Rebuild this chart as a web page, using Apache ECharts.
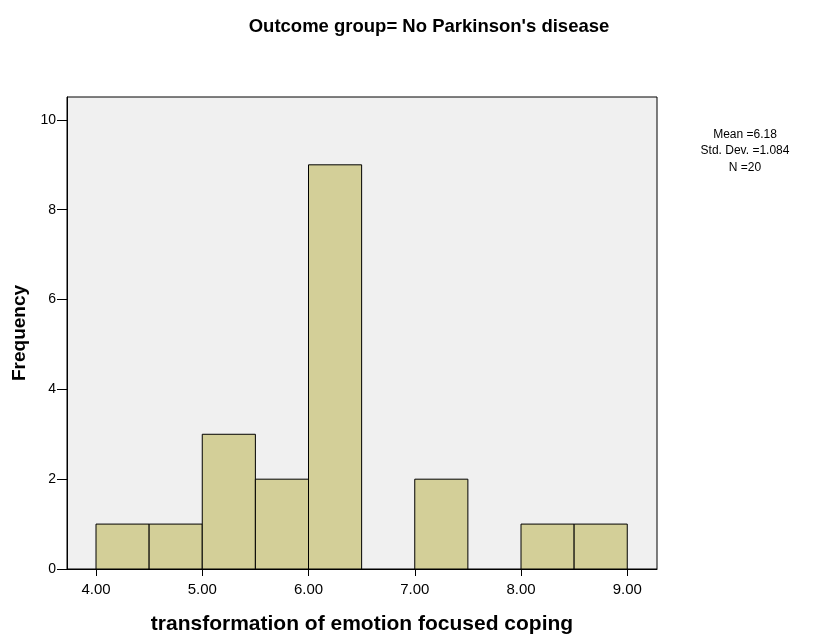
<!DOCTYPE html>
<html><head><meta charset="utf-8">
<script src="https://cdn.jsdelivr.net/npm/echarts@6/dist/echarts.min.js"></script>
<style>html,body{margin:0;padding:0;background:#fff}#c{width:822px;height:634px}</style>
</head><body><div id="c"></div>
<script>
var binStart = [4.0, 4.5, 5.0, 5.5, 6.0, 6.5, 7.0, 7.5, 8.0, 8.5];
var binEnd   = [4.5, 5.0, 5.5, 6.0, 6.5, 7.0, 7.5, 8.0, 8.5, 9.0];
var counts   = [1, 1, 3, 2, 9, 0, 2, 0, 1, 1];
var xTicks = [4, 5, 6, 7, 8, 9];
var statsLines = ['Mean =6.18', 'Std. Dev. =1.084', 'N =20'];
var titleText = "Outcome group= No Parkinson's disease";
var xName = 'transformation of emotion focused coping';
var yName = 'Frequency';

var data = binStart.map(function (s, i) { return [s, binEnd[i], counts[i]]; }).filter(function(d){return d[2]>0;});

var chart = echarts.init(document.getElementById('c'), null, {renderer: 'canvas'});
var font = '"Liberation Sans", Arial, sans-serif';
chart.setOption({
  backgroundColor: '#ffffff',
  animation: false,
  title: {
    text: titleText, left: 424, top: 12, textAlign: 'center',
    textStyle: {fontFamily: font, fontSize: 18.5, fontWeight: 'bold', color: '#000'}
  },
  graphic: [{
    type: 'text',
    style: {
      text: statsLines.join('\n'), x: 745, y: 126, textAlign: 'center',
      font: '12px ' + font, fill: '#000', lineHeight: 16.5
    }
  }],
  grid: {left: 67, top: 97, right: 165, bottom: 65, outerBoundsMode: 'none', containLabel: false,
    show: true, backgroundColor: '#f0f0f0', borderColor: '#000', borderWidth: 1},
  xAxis: {
    type: 'value', min: 3.727, max: 9.28,
    name: xName, nameLocation: 'middle', nameGap: 45,
    nameTextStyle: {fontFamily: font, fontSize: 21, fontWeight: 'bold', color: '#000'},
    axisLine: {show: true, lineStyle: {color: '#000', width: 1}},
    axisTick: {show: true, length: 7, customValues: xTicks, lineStyle: {color: '#000'}},
    axisLabel: {customValues: xTicks, margin: 13, fontFamily: font, fontSize: 15, color: '#000',
      formatter: function (v) { return v.toFixed(2); }},
    splitLine: {show: false}
  },
  yAxis: {
    type: 'value', min: 0, max: 10.51, interval: 2,
    name: yName, nameLocation: 'middle', nameGap: 37,
    nameTextStyle: {fontFamily: font, fontSize: 19, fontWeight: 'bold', color: '#000'},
    axisLine: {show: true, lineStyle: {color: '#000', width: 1}},
    axisTick: {show: true, length: 10, lineStyle: {color: '#000'}},
    axisLabel: {margin: 11, fontFamily: font, fontSize: 14, color: '#000',
      showMaxLabel: false},
    splitLine: {show: false}
  },
  series: [{
    type: 'custom',
    data: data,
    encode: {x: [0, 1], y: 2},
    renderItem: function (params, api) {
      var p0 = api.coord([api.value(0), api.value(2)]);
      var p1 = api.coord([api.value(1), 0]);
      return {
        type: 'rect',
        shape: {x: p0[0], y: p0[1], width: p1[0] - p0[0], height: p1[1] - p0[1]},
        style: {fill: '#d3cf98', stroke: '#000', lineWidth: 1}
      };
    }
  }]
});
</script></body></html>
